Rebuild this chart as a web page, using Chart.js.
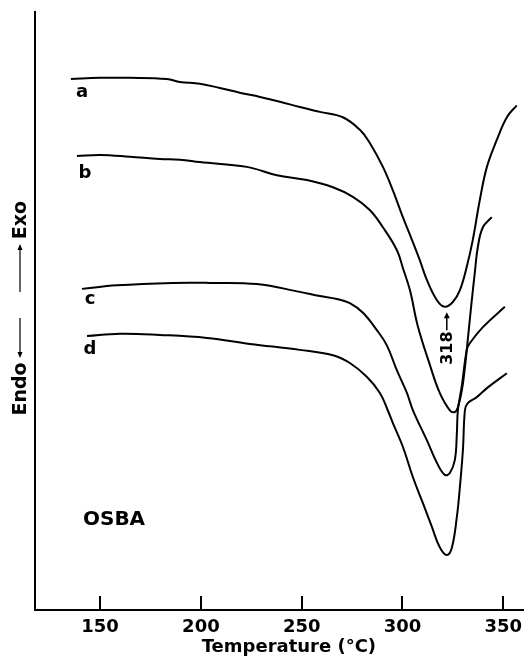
<!DOCTYPE html>
<html>
<head>
<meta charset="utf-8">
<script src="https://cdn.jsdelivr.net/npm/chart.js@4.4.0/dist/chart.umd.min.js"></script>
<style>
  html, body { margin: 0; padding: 0; background: #fff; }
</style>
</head>
<body>
<canvas id="dsc" width="524" height="665"></canvas>
<script>
// DSC traces, temperature in degC, heat flow in arbitrary units
const curveNames = ['a', 'b', 'c', 'd'];

const tempA = [135.5, 149.9, 164.8, 183.1, 189.6, 199.5, 209.4, 219.3, 229.3, 239.2, 249.1, 259.0, 270.4, 278.9, 283.8, 290.3, 295.2, 300.2, 304.7, 308.6, 312.1, 317.1, 321.0, 325.0, 328.5, 331.9, 334.9, 338.4, 341.9, 346.8, 351.8, 356.7];
const flowA = [88.8, 89.0, 89.0, 88.8, 88.3, 88.0, 87.3, 86.5, 85.8, 85.0, 84.1, 83.3, 82.4, 80.3, 78.1, 74.1, 70.2, 65.7, 61.9, 58.5, 55.2, 51.8, 50.7, 51.5, 53.5, 57.4, 61.9, 68.6, 74.1, 78.6, 82.4, 84.4];

const tempB = [138.5, 149.9, 164.8, 179.7, 189.6, 199.5, 222.8, 237.7, 252.6, 265.5, 275.4, 283.8, 290.3, 297.2, 300.2, 303.7, 307.6, 313.6, 318.5, 323.5, 326.0, 327.5, 329.5, 331.0, 331.9, 333.4, 334.4, 335.9, 337.4, 339.9, 344.3];
const flowB = [75.9, 76.1, 75.8, 75.4, 75.3, 74.9, 74.1, 72.7, 71.9, 70.7, 69.1, 66.9, 64.0, 60.2, 57.2, 53.5, 47.5, 41.0, 36.3, 33.4, 33.1, 33.9, 36.8, 40.6, 43.5, 48.5, 51.8, 56.4, 60.7, 64.0, 65.7];

const tempC = [141.0, 158.3, 186.1, 204.5, 227.8, 249.1, 259.0, 267.5, 273.9, 280.4, 287.3, 292.2, 297.2, 302.2, 305.2, 312.1, 317.1, 321.0, 323.5, 326.0, 327.0, 327.5, 329.5, 331.9, 333.4, 339.9, 350.8];
const flowC = [53.7, 54.3, 54.7, 54.7, 54.5, 53.2, 52.5, 52.0, 51.3, 49.7, 46.8, 44.3, 40.1, 36.3, 33.4, 28.4, 24.6, 22.6, 22.9, 25.1, 29.6, 33.4, 37.6, 43.5, 44.6, 47.3, 50.7];

const tempD = [143.5, 159.8, 179.7, 203.0, 224.3, 249.1, 265.5, 273.9, 282.3, 288.8, 292.7, 295.2, 300.2, 305.2, 310.1, 314.6, 318.5, 322.0, 324.5, 327.0, 328.5, 330.0, 331.0, 332.4, 336.9, 341.9, 351.8];
const flowD = [45.8, 46.2, 46.0, 45.5, 44.5, 43.5, 42.6, 41.3, 39.0, 36.3, 33.4, 31.3, 27.3, 22.2, 17.9, 13.9, 10.5, 9.2, 10.4, 15.6, 20.6, 26.8, 33.4, 34.6, 35.6, 37.1, 39.6];

const xTicks = [150, 200, 250, 300, 350];
const peakText = '318';
const sampleName = 'OSBA';

const temps = [tempA, tempB, tempC, tempD];
const flows = [flowA, flowB, flowC, flowD];

const fam = "'DejaVu Sans', sans-serif";
const tickFont = { family: fam, weight: 'bold', size: 18 };

// where the letters sit, in data units
const nameSpots = [[141.0, 86.6], [142.5, 73.0], [145.0, 52.0], [145.0, 43.6]];

const decor = {
  id: 'decor',
  afterDraw(chart) {
    const { ctx, chartArea } = chart;
    const xs = chart.scales.x, ys = chart.scales.y;
    ctx.save();
    ctx.strokeStyle = '#000';
    ctx.fillStyle = '#000';

    // inward ticks on the temperature axis
    ctx.lineWidth = 2;
    xTicks.forEach(v => {
      const px = Math.round(xs.getPixelForValue(v));
      ctx.beginPath();
      ctx.moveTo(px, chartArea.bottom);
      ctx.lineTo(px, chartArea.bottom - 14);
      ctx.stroke();
    });

    // curve letters
    ctx.font = 'bold 18px ' + fam;
    ctx.textAlign = 'center';
    ctx.textBaseline = 'middle';
    curveNames.forEach((n, i) => {
      ctx.fillText(n, xs.getPixelForValue(nameSpots[i][0]), ys.getPixelForValue(nameSpots[i][1]));
    });

    ctx.font = 'bold 20px ' + fam;
    ctx.textAlign = 'left';
    ctx.fillText(sampleName, xs.getPixelForValue(141.5), ys.getPixelForValue(15.1));

    // peak temperature, vertical with an arrow up to the minimum of a
    const px = xs.getPixelForValue(322.0);
    ctx.save();
    ctx.translate(px, ys.getPixelForValue(43.8));
    ctx.rotate(-Math.PI / 2);
    ctx.font = 'bold 16px ' + fam;
    ctx.textAlign = 'center';
    ctx.fillText(peakText, 0, 1);
    ctx.restore();
    const tail = ys.getPixelForValue(46.8), tip = ys.getPixelForValue(49.8);
    ctx.lineWidth = 1.5;
    ctx.beginPath();
    ctx.moveTo(px, tail);
    ctx.lineTo(px, tip + 3);
    ctx.stroke();
    ctx.beginPath();
    ctx.moveTo(px, tip);
    ctx.lineTo(px - 3, tip + 6);
    ctx.lineTo(px + 3, tip + 6);
    ctx.closePath();
    ctx.fill();

    // Endo <-  -> Exo along the left side
    const cx = 20, cy = (chartArea.top + chartArea.bottom) / 2;
    ctx.font = 'bold 19px ' + fam;
    ctx.textAlign = 'center';
    [['Endo', 78], ['Exo', -91]].forEach(([s, dy]) => {
      ctx.save();
      ctx.translate(cx, cy + dy);
      ctx.rotate(-Math.PI / 2);
      ctx.fillText(s, 0, 1);
      ctx.restore();
    });
    ctx.lineWidth = 1.2;
    ctx.beginPath();
    ctx.moveTo(cx, cy + 7);
    ctx.lineTo(cx, cy + 44);
    ctx.moveTo(cx, cy - 19);
    ctx.lineTo(cx, cy - 64);
    ctx.stroke();
    ctx.beginPath();
    ctx.moveTo(cx, cy + 47);
    ctx.lineTo(cx - 2.5, cy + 41);
    ctx.lineTo(cx + 2.5, cy + 41);
    ctx.closePath();
    ctx.moveTo(cx, cy - 67);
    ctx.lineTo(cx - 2.5, cy - 61);
    ctx.lineTo(cx + 2.5, cy - 61);
    ctx.closePath();
    ctx.fill();
    ctx.restore();
  }
};

new Chart(document.getElementById('dsc'), {
  type: 'line',
  data: {
    datasets: curveNames.map((n, i) => ({
      label: n,
      data: temps[i].map((t, k) => ({ x: t, y: flows[i][k] })),
      borderColor: '#000',
      borderWidth: 2,
      pointRadius: 0,
      fill: false,
      tension: 0.4
    }))
  },
  options: {
    responsive: false,
    animation: false,
    layout: { padding: { top: 12, right: 0, left: 0, bottom: 0 } },
    plugins: { legend: { display: false }, tooltip: { enabled: false } },
    scales: {
      x: {
        type: 'linear',
        min: 117.7,
        max: 360.3,
        afterBuildTicks: s => { s.ticks = xTicks.map(v => ({ value: v })); },
        grid: { display: true, drawOnChartArea: false, drawTicks: false },
        border: { color: '#000', width: 2 },
        ticks: { color: '#000', font: tickFont, padding: 7, maxRotation: 0 },
        title: {
          display: true,
          text: '\u00a0\u00a0\u00a0Temperature (°C)',
          color: '#000',
          font: tickFont,
          padding: { top: 0, bottom: 7 }
        },
        afterFit: s => { s.height = 55; s.paddingLeft = 0; s.paddingRight = 0; }
      },
      y: {
        type: 'linear',
        min: 0,
        max: 100,
        ticks: { display: false },
        grid: { display: true, drawOnChartArea: false, drawTicks: false },
        border: { color: '#000', width: 2 },
        afterFit: s => { s.width = 35; }
      }
    }
  },
  plugins: [decor]
});
</script>
</body>
</html>
